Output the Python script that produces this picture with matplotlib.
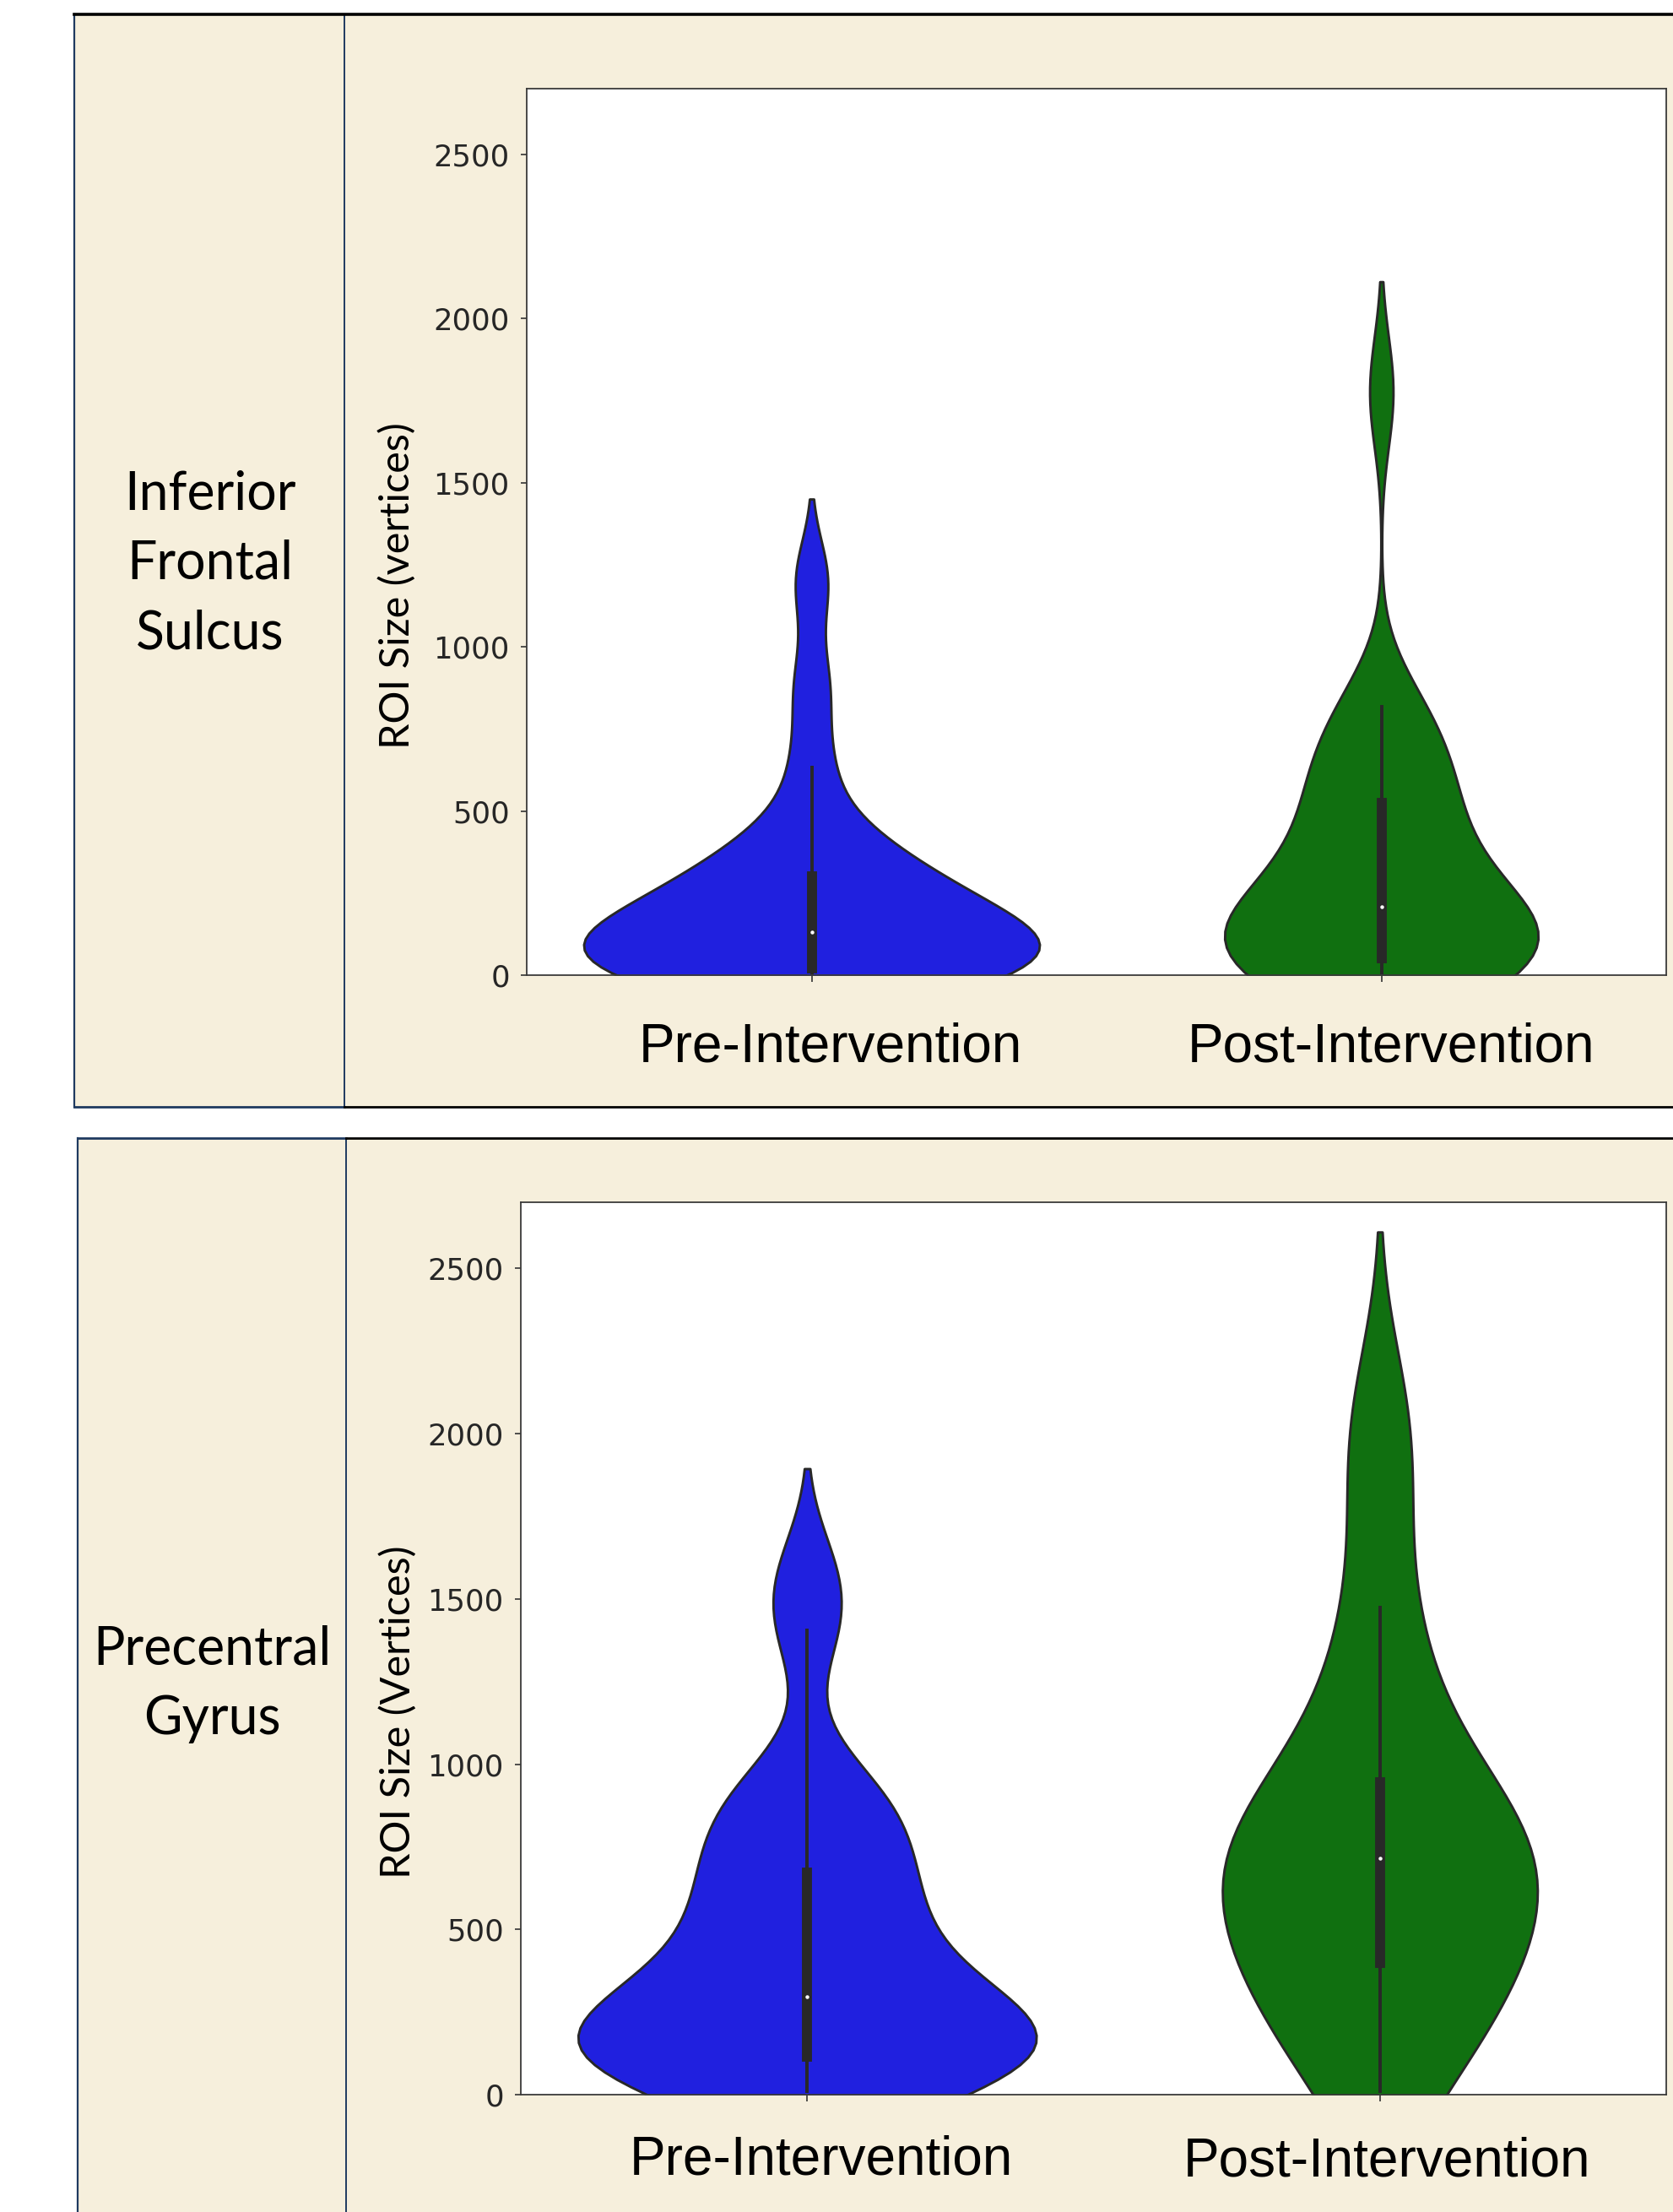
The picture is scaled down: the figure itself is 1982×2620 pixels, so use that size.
import matplotlib
matplotlib.use("Agg")
import matplotlib.pyplot as plt
import numpy as np
import seaborn as sns
from matplotlib.patches import Rectangle

categories = ["Pre-Intervention", "Post-Intervention"]
regions = ["Inferior\nFrontal\nSulcus", "Precentral\nGyrus"]
y_labels = ["ROI Size (vertices)", "ROI Size (Vertices)"]
y_ticks = [0, 500, 1000, 1500, 2000, 2500]

# ROI sizes (vertices), one value per participant
ifs_pre = [0, 0, 5, 10, 14, 17, 21, 50, 75, 95, 110, 125, 137, 165, 195, 225,
           255, 292, 324, 380, 430, 632, 880, 1200]
ifs_post = [0, 5, 15, 25, 35, 45, 54, 80, 110, 140, 170, 200, 216, 260, 320,
            380, 450, 515, 552, 620, 700, 780, 818, 1776]
pcg_pre = [10, 45, 70, 88, 100, 110, 117, 165, 200, 235, 260, 282, 312, 390,
           470, 540, 600, 645, 750, 820, 880, 950, 1405, 1574]
pcg_post = [10, 120, 200, 280, 380, 405, 480, 550, 610, 665, 763, 775, 790,
            810, 900, 1085, 1250, 1473, 1860, 2080]

colors = ["#2020DF", "#107010"]
beige = "#F6EFDC"
navy = "#1F3A60"

W, H = 1982, 2620
fig = plt.figure(figsize=(W / 100, H / 100), dpi=100)

# table frame drawn in pixel coordinates
bg = fig.add_axes([0, 0, 1, 1])
bg.set_xlim(0, W)
bg.set_ylim(H, 0)
bg.axis("off")

rows = [(88, 408, 17, 1311), (92, 410, 1348, 2660)]
for left, div, top, bottom in rows:
    bg.add_patch(Rectangle((left, top), W + 20 - left, bottom - top,
                           facecolor=beige, edgecolor="none", zorder=0))
    bg.plot([left, left], [top, bottom], color=navy, lw=1.6, zorder=2)
    bg.plot([div, div], [top, bottom], color=navy, lw=1.4, zorder=2)

bg.plot([88, W + 10], [17, 17], color="black", lw=2.6, zorder=3)
bg.plot([88, 408], [1311, 1311], color=navy, lw=2.0, zorder=3)
bg.plot([408, W + 10], [1311, 1311], color="black", lw=2.0, zorder=3)
bg.plot([92, 410], [1348, 1348], color=navy, lw=2.0, zorder=3)
bg.plot([410, W + 10], [1348, 1348], color="black", lw=2.0, zorder=3)


def fixed_bw(h):
    # kernel bandwidth expressed in data units
    return lambda kde: h / np.std(kde.dataset, ddof=1)


def draw_panel(ax, pre, post, widths, bws):
    for cat, vals, color, w, h in zip(categories, (pre, post), colors, widths, bws):
        sns.violinplot(x=[cat] * len(vals), y=vals, order=categories,
                       color=color, saturation=1, width=w,
                       bw_method=fixed_bw(h), cut=2, inner="box",
                       linewidth=1.9, linecolor="#282828", ax=ax)

    # thicker violin outline, small round median dot
    for coll in ax.collections:
        coll.set_linewidth(2.1)
    for line in ax.lines:
        if line.get_marker() not in (None, "None", ""):
            line.set_marker("o")
            line.set_markersize(3.2)
            line.set_markerfacecolor("white")
            line.set_markeredgewidth(0)

    ax.set_facecolor("white")
    ax.set_xlim(-0.5, 1.5)
    ax.set_ylim(0, 2700)
    ax.set_yticks(y_ticks)
    ax.set_xticks([0, 1])
    ax.set_xticklabels([])
    ax.set_xlabel("")
    ax.set_ylabel("")
    ax.tick_params(axis="y", labelsize=25.5, length=5, width=1.2, pad=9.5,
                   color="#333333", labelcolor="#262626")
    ax.tick_params(axis="x", length=6, width=1.2, color="#333333")
    for s in ax.spines.values():
        s.set_color("#3a3a3a")
        s.set_linewidth(1.3)


ax1 = fig.add_axes([624 / W, 1 - 1155 / H, 1350 / W, 1050 / H])
draw_panel(ax1, ifs_pre, ifs_post, widths=[0.8, 0.55], bws=[125, 168])

ax2 = fig.add_axes([617 / W, 1 - 2481 / H, 1357 / W, 1057 / H])
draw_panel(ax2, pcg_pre, pcg_post, widths=[0.8, 0.55], bws=[160, 265])

# row labels, axis titles and category names
fig.text(249 / W, 1 - 668 / H, regions[0], ha="center", va="center",
         family="Lato", fontsize=45, linespacing=1.52)
fig.text(251 / W, 1 - 1995 / H, regions[1], ha="center", va="center",
         family="Lato", fontsize=45, linespacing=1.52)

fig.text(470 / W, 1 - 694 / H, y_labels[0], ha="center", va="center",
         rotation=90, family="Lato", fontsize=35)
fig.text(471 / W, 1 - 2028 / H, y_labels[1], ha="center", va="center",
         rotation=90, family="Lato", fontsize=35)

for cx, cy, label in [(984, 1240, categories[0]), (1648, 1240, categories[1]),
                      (973, 2558, categories[0]), (1643, 2560, categories[1])]:
    fig.text(cx / W, 1 - cy / H, label, ha="center", va="center",
             family="Liberation Sans", fontsize=46)

fig.savefig("out.png", dpi=100, facecolor="white")
